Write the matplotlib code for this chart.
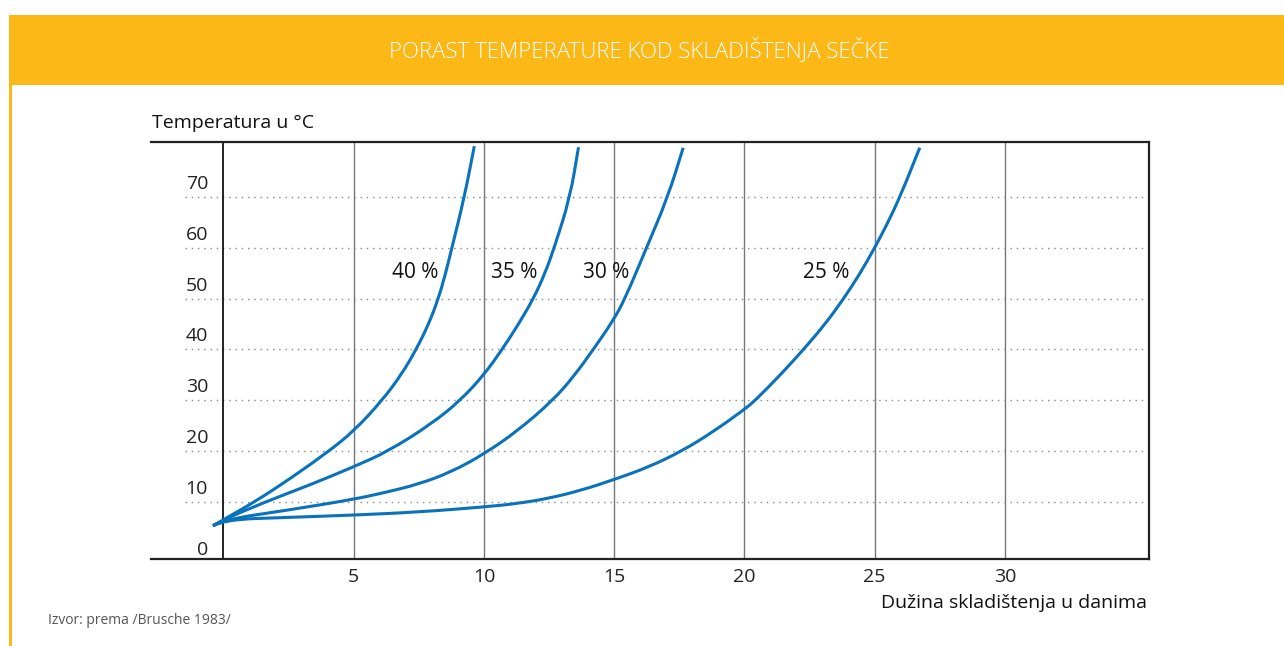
import matplotlib
matplotlib.use("Agg")
import matplotlib.pyplot as plt
import matplotlib.patches as patches
from matplotlib.path import Path

plt.rcParams['font.family'] = ['Open Sans', 'DejaVu Sans']

# --- data (days, °C) ---
x_40 = [-0.4, 0.0, 1.2, 2.6, 4.0, 5.0, 6.1, 6.85, 7.4, 7.88, 8.25, 8.52, 8.77, 9.25, 9.63]
t_40 = [5.3, 6.5, 10, 14.7, 19.8, 23.9, 30, 35.2, 40, 45, 50, 54.8, 60, 70, 80.0]

x_35 = [-0.4, 0.0, 1.61, 3.3, 5.0, 6.34, 8.0, 9.1, 10.0, 10.7, 11.33, 11.9, 12.33, 12.7,
        13.31, 13.63]
t_35 = [5.3, 6.5, 10, 13.3, 16.9, 20, 25.4, 30, 35.0, 40, 45, 50, 54.8, 60,
        70, 79.8]

x_30 = [-0.4, 0.0, 2.5, 5.0, 6.25, 7.5, 8.75, 10.0, 11.3, 12.65, 13.45, 14.2, 14.95, 15.42,
        16.24, 17.06, 17.65]
t_30 = [5.3, 6.5, 8.4, 10.5, 11.9, 13.5, 15.9, 19.4, 24.0, 30, 34.7, 40, 45.6, 50,
        60, 70, 79.7]

x_25 = [-0.4, 0.0, 2.5, 5.0, 7.5, 10.0, 11.25, 12.5, 13.75, 15.0, 16.3, 17.6, 18.8, 20.0,
        20.42, 21.38, 22.27, 23.1, 23.81, 24.42, 25.0, 25.47, 25.97, 26.73]
t_25 = [5.3, 6.5, 6.95, 7.4, 8.0, 9.0, 9.65, 10.7, 12.3, 14.4, 16.8, 20, 23.8, 28.2,
        30, 35.0, 40, 45, 50, 54.8, 60, 64.6, 70, 79.7]

series = [("40 %", x_40, t_40, 7.36, 55.2),
          ("35 %", x_35, t_35, 11.15, 55.2),
          ("30 %", x_30, t_30, 14.68, 55.2),
          ("25 %", x_25, t_25, 23.15, 55.2)]

x_ticks = [5, 10, 15, 20, 25, 30]
y_ticks = [0, 10, 20, 30, 40, 50, 60, 70]

blue = '#0A72BA'
orange = '#FBB817'


def smooth_path(xs, ys):
    # quadratic B-spline style path: read points act as control points
    verts = [(xs[0], ys[0])]
    codes = [Path.MOVETO]
    for i in range(1, len(xs) - 1):
        verts += [(xs[i], ys[i]), ((xs[i] + xs[i + 1]) / 2, (ys[i] + ys[i + 1]) / 2)]
        codes += [Path.CURVE3, Path.CURVE3]
    verts.append((xs[-1], ys[-1]))
    codes.append(Path.LINETO)
    return Path(verts, codes)


fig = plt.figure(figsize=(12.84, 6.46), dpi=100)

# header band + left border
fig.add_artist(patches.Rectangle((9 / 1284, 1 - 85 / 646), 1, 70 / 646,
                                 transform=fig.transFigure, color=orange, lw=0))
fig.add_artist(patches.Rectangle((9 / 1284, 0), 2.5 / 1284, 1 - 85 / 646,
                                 transform=fig.transFigure, color=orange, lw=0))
fig.text(639 / 1284, 1 - 50 / 646, "PORAST TEMPERATURE KOD SKLADIŠTENJA SEČKE",
         color='white', fontsize=16, fontweight='light', ha='center', va='center')

ax = fig.add_axes([151 / 1284, 1 - 559 / 646, 998 / 1284, 417 / 646])
ax.set_xlim(-2.78, 35.53)
ax.set_ylim(-1.24, 80.83)

for s in ['top', 'bottom', 'right']:
    ax.spines[s].set_linewidth(1.6)
    ax.spines[s].set_color('#222222')
ax.spines['left'].set_visible(False)
ax.set_xticks([])
ax.set_yticks([])

# grid
ax.axvline(0, color='#111111', lw=1.3, zorder=2)
for v in x_ticks:
    ax.axvline(v, color='#777777', lw=1.0, zorder=1)
    ax.annotate(str(v), xy=(v, -1.24), xytext=(0, -18), textcoords='offset pixels',
                ha='center', va='center', fontsize=14, color='#222222')
for v in y_ticks:
    if v > 0:
        ax.plot([-1.47, 35.53], [v, v], color='#888888', lw=1.0,
                linestyle=(0, (1, 3.5)), zorder=1)
        ax.annotate(str(v), xy=(-0.59, v), xytext=(0, 8), textcoords='offset pixels',
                    ha='right', va='baseline', fontsize=14, color='#222222')
    else:
        ax.annotate(str(v), xy=(-0.59, -1.24), xytext=(0, 4), textcoords='offset pixels',
                    ha='right', va='baseline', fontsize=14, color='#222222')

# curves
for label, xs, ts, lx, ly in series:
    ax.add_patch(patches.PathPatch(smooth_path(xs, ts), fill=False, edgecolor=blue,
                                   lw=2.2, capstyle='butt', zorder=3))
    ax.text(lx, ly, label, ha='center', va='center', fontsize=15, color='#111111')

fig.text(151.5 / 1284, 1 - 128 / 646, "Temperatura u °C", fontsize=14,
         ha='left', va='baseline', color='#111111')
fig.text(1147 / 1284, 1 - 603 / 646, "Dužina skladištenja u danima", fontsize=14,
         ha='right', va='center', color='#111111')
fig.text(48 / 1284, 1 - 621 / 646, "Izvor: prema /Brusche 1983/", fontsize=10,
         ha='left', va='center', color='#555555')

fig.savefig("out.png", dpi=100)
